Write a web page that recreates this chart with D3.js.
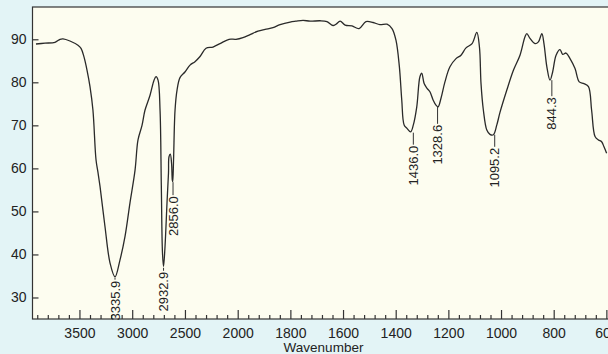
<!DOCTYPE html>
<html>
<head>
<meta charset="utf-8">
<script src="https://cdn.jsdelivr.net/npm/d3@7"></script>
<style>
  body { margin:0; background:#e3f4f6; }
  svg { display:block; }
  .axis text { font-family:"Liberation Sans Narrow","Arial Narrow",Arial,sans-serif; font-size:14px; fill:#222; }
  .axis path, .axis line { stroke:#333; stroke-width:1.2; }
  .peak text { font-family:"Liberation Sans Narrow","Arial Narrow",Arial,sans-serif; font-size:13px; fill:#222; }
</style>
</head>
<body>
<svg width="608" height="354"></svg>
<script>
// spectrum: wavenumber (cm-1) and %T
const wavenumber = [3912,3827,3732,3684,3656,3590,3514,3485,3457,3428,3400,3372,3343,3324,3305,3258,3210,3163,3116,3068,3021,2973,2945,2907,2879,2831,2793,2774,2755,2736,2724,2713,2703,2689,2670,2656,2651,2639,2627,2620,2616,2608,2594,2575,2547,2500,2452,2405,2357,2300,2234,2168,2082,2016,
  1980,1953,1923,1896,1866,1839,1801,1779,1752,1725,1687,1661,1638,1627,1611,1592,1566,1539,1513,1486,1460,1433,1414,1399,1386,1377,1368,1357,1343,1333,1320,1308,1301,1292,1281,1270,1258,1247,1239,1228,1213,1194,1171,1152,1133,1110,1092,1082,1076,1067,1054,1042,1029,1016,1004,978,953,928,909,902,890,871,858,845,837,826,814,804,791,776,766,753,738,719,703,685,668,656,643,630,618,609,599];
const transmittance = [88.9,89.1,89.3,90.0,90.1,89.6,88.6,87.9,85.9,82.8,79.0,73.5,62.0,59.0,55.8,46.5,38.0,34.8,38.7,44.2,52.0,59.6,66.6,70.0,73.5,77.0,80.5,81.3,80.5,73.5,56.0,40.4,37.2,41.8,52.0,58.9,62.7,63.3,61.2,57.3,56.9,62.0,73.5,78.2,81.1,82.4,84.0,84.8,86.0,87.9,88.2,89.0,90.0,90.0,
  90.4,91.1,91.9,92.3,92.7,93.4,94.0,94.2,94.4,94.2,94.3,94.1,93.2,93.5,94.2,93.3,93.1,92.5,94.1,93.9,93.4,93.5,92.5,89.8,83.6,75.9,70.1,69.3,68.5,70.1,74.3,81.3,82.1,79.7,78.6,77.8,75.9,74.7,74.3,76.3,80.1,83.6,85.5,86.3,88.0,89.0,91.6,88.2,79.7,73.5,68.9,67.9,67.8,70.1,73.0,78.2,82.8,86.3,90.6,91.3,90.2,89.0,89.4,91.3,89.0,83.6,80.5,82.4,86.3,87.6,86.5,86.8,85.5,83.2,80.1,79.7,79.0,73.5,67.4,66.6,66.2,65.0,63.5];

// labelled peaks
const peakLabels = ['3335.9','2932.9','2856.0','1436.0','1328.6','1095.2','844.3'];
const peakPos = [3163,2703,2613,1333,1241,1024,807];
const peakT = [34.6,36.9,56.8,68.3,74.3,67.8,80.5];
const peakLeader = [2,3,13,12,17,12,16];

const xMajor = [3500,3000,2500,2000,1800,1600,1400,1200,1000,800,600];
const yTicks = [30,40,50,60,70,80,90];

const svg = d3.select('svg');
const margin = {top:7, left:32.5, bottom:35};
const height = 354 - margin.top - margin.bottom;

// the axis changes scale at 2000
const x = d3.scaleLinear()
    .domain([3945,2000,590])
    .range([margin.left,237.7,609]);
const y = d3.scaleLinear()
    .domain([25,97.5])
    .range([margin.top+height,margin.top]);

svg.append('rect')
    .attr('x',margin.left).attr('y',margin.top)
    .attr('width',640).attr('height',height)
    .attr('fill','#fdfdf0')
    .attr('stroke','#333').attr('stroke-width',1.2);

//minor ticks
const minor = d3.range(3900,2000,-100).concat(d3.range(1960,599,-40))
    .filter(v => !xMajor.includes(v));
svg.append('g').attr('class','axis')
    .attr('transform','translate(0,'+(margin.top+height)+')')
    .call(d3.axisBottom(x).tickValues(minor).tickSize(-4).tickFormat(''))
    .call(g => g.select('.domain').remove());

svg.append('g').attr('class','axis')
    .attr('transform','translate(0,'+(margin.top+height)+')')
    .call(d3.axisBottom(x).tickValues(xMajor).tickSizeInner(-9).tickSizeOuter(0).tickPadding(9).tickFormat(d3.format('d')))
    .call(g => g.select('.domain').remove());

svg.append('g').attr('class','axis')
    .attr('transform','translate('+margin.left+',0)')
    .call(d3.axisLeft(y).tickValues(yTicks).tickSizeInner(-6).tickSizeOuter(0).tickPadding(6))
    .call(g => g.select('.domain').remove());

svg.append('text')
    .attr('x',323.5).attr('y',351.5)
    .attr('text-anchor','middle')
    .style('font-family','Arial, "Liberation Sans", sans-serif')
    .style('font-size','13.5px').style('fill','#222')
    .text('Wavenumber');

const pts = wavenumber.map((w,i) => [w, transmittance[i]]);
const line = d3.line()
    .x(d => x(d[0]))
    .y(d => y(d[1]))
    .curve(d3.curveCatmullRom.alpha(0.5));
svg.append('path')
    .attr('d',line(pts))
    .attr('fill','none')
    .attr('stroke','#2a2a2a')
    .attr('stroke-width',1.3);

const peaks = svg.append('g').attr('class','peak')
    .selectAll('g')
    .data(peakLabels)
    .join('g')
    .attr('transform',(d,i) => 'translate('+x(peakPos[i])+','+y(peakT[i])+')');
peaks.append('line')
    .attr('y1',0).attr('y2',(d,i) => peakLeader[i])
    .attr('stroke','#333').attr('stroke-width',1);
peaks.append('text')
    .attr('transform',(d,i) => 'translate(0,'+(peakLeader[i]+1)+') rotate(-90)')
    .attr('text-anchor','end')
    .attr('dy','0.35em')
    .text(d => d);
</script>
</body>
</html>
